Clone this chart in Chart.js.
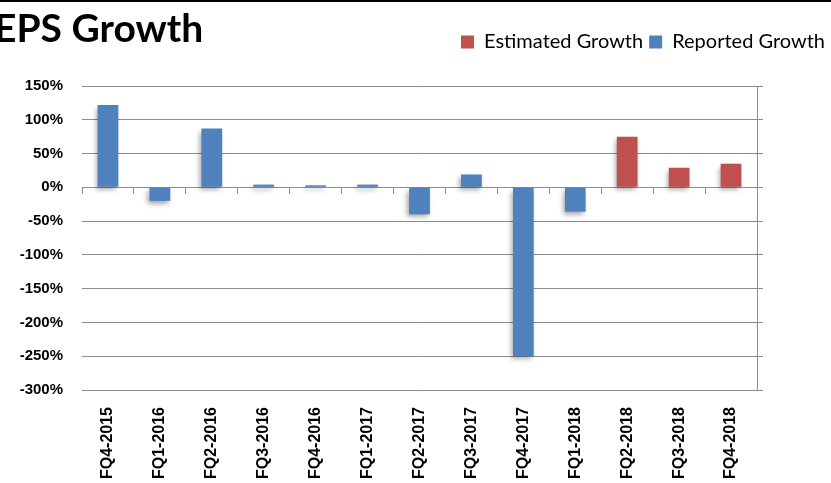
<!DOCTYPE html>
<html>
<head>
<meta charset="utf-8">
<script src="https://cdn.jsdelivr.net/npm/chart.js@4/dist/chart.umd.min.js"></script>
<style>
  html, body { margin: 0; padding: 0; background: #fff; }
  #wrap { position: relative; width: 831px; height: 483px; overflow: hidden; }
  #topline { position: absolute; left: 0; top: 0; width: 831px; height: 2px; background: #000; }
  #title { position: absolute; left: -6px; top: 4px; font: bold 39px Lato, sans-serif; color: #000; white-space: nowrap; }
</style>
</head>
<body>
<div id="wrap">
  <canvas id="eps" width="831" height="483"></canvas>
  <div id="topline"></div>
  <div id="title">EPS Growth</div>
</div>
<script>
var QUARTERS = ["FQ4-2015", "FQ1-2016", "FQ2-2016", "FQ3-2016", "FQ4-2016", "FQ1-2017", "FQ2-2017",
                "FQ3-2017", "FQ4-2017", "FQ1-2018", "FQ2-2018", "FQ3-2018", "FQ4-2018"];
var REPORTED = [122, -20, 87, 4, 3, 4, -40, 19, -250, -36, null, null, null];
var ESTIMATED = [null, null, null, null, null, null, null, null, null, null, 75, 29, 35];

var Y_MIN = -300;
var Y_MAX = 150;
var Y_STEP = 50;

var COLOR_ESTIMATED = "#C0504D";
var COLOR_REPORTED = "#4F81BD";
var GRID_COLOR = "#8c8c8c";

// soft drop shadow under the bars, like the spreadsheet original
var barShadow = {
    id: "barShadow",
    beforeDatasetsDraw: function (chart) {
        var ctx = chart.ctx;
        ctx.save();
        ctx.shadowColor = "rgba(0,0,0,0.35)";
        ctx.shadowBlur = 5;
        ctx.shadowOffsetX = -2;
        ctx.shadowOffsetY = 3;
    },
    afterDatasetsDraw: function (chart) {
        chart.ctx.restore();
    },
};

// extra room between the legend and the plot
var legendGap = {
    id: "legendGap",
    beforeInit: function (chart) {
        var fit = chart.legend.fit;
        chart.legend.fit = function () {
            fit.bind(chart.legend)();
            this.height += 24;
        };
    },
};

const config = {
    type: "bar",
    data: {
        labels: QUARTERS,
        datasets: [
            {
                label: "Estimated Growth",
                data: ESTIMATED,
                backgroundColor: COLOR_ESTIMATED,
            },
            {
                label: "Reported Growth",
                data: REPORTED,
                backgroundColor: COLOR_REPORTED,
            },
        ],
    },
    options: {
        animation: false,
        responsive: false,
        barPercentage: 0.4,
        categoryPercentage: 1,
        layout: { padding: { top: 26, right: 0, left: 0, bottom: 0 } },
        plugins: {
            legend: {
                position: "top",
                align: "end",
                labels: {
                    boxWidth: 13,
                    boxHeight: 13,
                    padding: 6,
                    color: "#000",
                    font: { family: "Lato", size: 20 },
                },
            },
            tooltip: { enabled: false },
        },
        scales: {
            x: {
                stacked: true,
                grid: { display: false },
                border: { display: false },
                ticks: {
                    maxRotation: 90,
                    minRotation: 90,
                    padding: 9,
                    color: "#000",
                    font: { family: "Liberation Sans", size: 16, weight: "bold" },
                },
                afterFit: function (scale) { scale.height = 93; },
            },
            x2: {
                type: "category",
                labels: QUARTERS,
                position: { y: 0 },
                offset: true,
                grid: { offset: true, drawOnChartArea: false, tickLength: 6, color: GRID_COLOR },
                border: { color: GRID_COLOR },
                ticks: { display: false },
            },
            y: {
                stacked: true,
                min: Y_MIN,
                max: Y_MAX,
                ticks: {
                    stepSize: Y_STEP,
                    padding: 19,
                    color: "#000",
                    font: { family: "Liberation Sans", size: 15, weight: "bold" },
                    callback: function (value) { return value + "%"; },
                },
                grid: { color: GRID_COLOR, drawTicks: false },
                border: { display: false },
                afterFit: function (scale) { scale.width = 82; },
            },
            y2: {
                position: "right",
                min: Y_MIN,
                max: Y_MAX,
                ticks: { stepSize: Y_STEP, display: false },
                grid: { drawOnChartArea: false, tickLength: 6, color: GRID_COLOR },
                border: { color: GRID_COLOR },
                afterFit: function (scale) { scale.width = 74; },
            },
        },
    },
    plugins: [barShadow, legendGap],
};

function drawCanvas() {
    const ctx = document.getElementById("eps");
    new Chart(ctx, config);
}
drawCanvas();
</script>
</body>
</html>
